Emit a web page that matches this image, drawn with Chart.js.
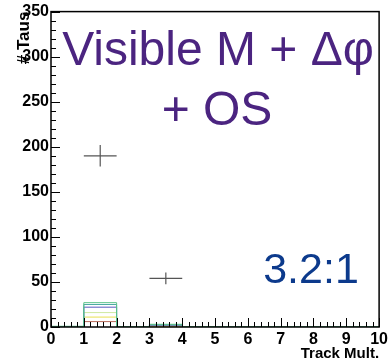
<!DOCTYPE html>
<html>
<head>
<meta charset="utf-8">
<script src="https://cdn.jsdelivr.net/npm/chart.js@4/dist/chart.umd.min.js"></script>
<style>
  html, body { margin: 0; padding: 0; background: #fff; }
  #wrap { width: 391px; height: 364px; }
</style>
</head>
<body>
<div id="wrap"><canvas id="c" width="391" height="364"></canvas></div>
<script>
// ── Data ──
const binEdges = [0, 1, 2, 3, 4, 5, 6, 7, 8, 9, 10];
// stacked background outlines (cumulative counts per bin)
const histGreen  = [0.8, 27, 0.5, 3, 0.5, 0.3, 0.3, 0.3, 0.3, 0.3];
const histTeal   = [0.4, 25, 0.3, 2.5, 0.3, 0, 0, 0, 0, 0];
const histBlue   = [0, 22, 0, 2, 0, 0, 0, 0, 0, 0];
const histPale   = [0, 16, 0, 1.5, 0, 0, 0, 0, 0, 0];
const histYellow = [0, 11, 0, 1, 0.3, 0, 0, 0, 0, 0];
const histRed    = [0, 6, 0, 0.5, 0.2, 0, 0, 0, 0, 0];
const histColors = ["#5cc48a", "#4aa8a0", "#5a5ac0", "#cfe9a0", "#e8e050", "#b86a5a"];

// measured points with errors
const pointX = [1.5, 3.5];
const pointY = [190, 54];
const pointErrY = [12, 6.5];
const pointErrX = [0.5, 0.5];

const yMajor = 50, yMinor = 10;
const xMajor = 1, xMinor = 0.2;

// ── Build datasets ──
// one point at each bin's lower edge, plus the last upper edge
function stepData(vals) {
  const pts = vals.map((v, i) => ({ x: binEdges[i], y: v }));
  pts.push({ x: binEdges[binEdges.length - 1], y: vals[vals.length - 1] });
  return pts;
}

const hists = [histGreen, histTeal, histBlue, histPale, histYellow, histRed];
const datasets = hists.map((h, i) => ({
  data: stepData(h),
  borderColor: histColors[i],
  borderWidth: 1,
  pointRadius: 0,
  stepped: "before",
  fill: false,
}));

const crossPts = [];
pointX.forEach((x, i) => {
  crossPts.push({ x: x - pointErrX[i], y: pointY[i] });
  crossPts.push({ x: x + pointErrX[i], y: pointY[i] });
  crossPts.push({ x: x, y: null });
  crossPts.push({ x: x, y: pointY[i] - pointErrY[i] });
  crossPts.push({ x: x, y: pointY[i] + pointErrY[i] });
  crossPts.push({ x: x, y: null });
});
datasets.push({
  data: crossPts,
  borderColor: "#555",
  borderWidth: 1.2,
  pointRadius: 0,
  spanGaps: false,
  fill: false,
});

// ── Frame, inward ticks and labels ──
const rootStyle = {
  id: "rootStyle",
  afterDatasetsDraw(chart) {
    const { ctx, chartArea: a, scales } = chart;
    ctx.save();
    ctx.strokeStyle = "#000";
    ctx.lineWidth = 1;
    ctx.beginPath();
    // y ticks
    for (let v = 0; v <= scales.y.max + 0.001; v += yMinor) {
      const py = Math.round(scales.y.getPixelForValue(v)) + 0.5;
      const len = Math.abs(v % yMajor) < 0.001 ? 9 : 5;
      ctx.moveTo(a.left, py);
      ctx.lineTo(a.left + len, py);
    }
    // x ticks
    for (let v = 0; v <= scales.x.max + 0.001; v += xMinor) {
      const px = Math.round(scales.x.getPixelForValue(v)) + 0.5;
      const r = Math.round(v * 10) / 10;
      const len = Math.abs(r - Math.round(r)) < 0.001 ? 9 : 5;
      ctx.moveTo(px, a.bottom);
      ctx.lineTo(px, a.bottom - len);
    }
    ctx.stroke();
    // frame
    ctx.lineWidth = 1.5;
    ctx.strokeRect(a.left, a.top, a.right - a.left, a.bottom - a.top);

    // big labels
    ctx.textAlign = "center";
    ctx.textBaseline = "alphabetic";
    ctx.fillStyle = "#4b2480";
    ctx.font = "48px 'Liberation Sans', Arial, sans-serif";
    ctx.fillText("Visible M + Δφ", 218, 65);
    ctx.fillText("+ OS", 217, 125);
    ctx.fillStyle = "#0c3a8c";
    ctx.font = "43px 'Liberation Sans', Arial, sans-serif";
    ctx.fillText("3.2:1", 311, 283);
    ctx.restore();
  },
};

const tickFont = { family: "'Liberation Sans', Arial, sans-serif", size: 16, weight: "bold" };
const titleFont = { family: "'Liberation Sans', Arial, sans-serif", size: 15, weight: "bold" };
const yTitleFont = { family: "'Liberation Sans', Arial, sans-serif", size: 17, weight: "bold" };

new Chart(document.getElementById("c"), {
  type: "line",
  data: { datasets },
  options: {
    responsive: false,
    animation: false,
    layout: { padding: { top: 11, right: 7, left: 0, bottom: 0 } },
    plugins: { legend: { display: false }, tooltip: { enabled: false } },
    scales: {
      x: {
        type: "linear",
        min: 0,
        max: 10,
        grid: { display: false, drawTicks: false },
        border: { display: false },
        ticks: { stepSize: xMajor, color: "#000", font: tickFont, padding: 3, maxRotation: 0, autoSkip: false },
        title: { display: true, text: "Track Mult.", align: "end", color: "#000", font: titleFont, padding: { top: 0, bottom: 1 } },
        afterFit(s) { s.height = 37; },
      },
      y: {
        min: 0,
        max: 350,
        grid: { display: false, drawTicks: false },
        border: { display: false },
        ticks: { stepSize: yMajor, color: "#000", font: tickFont, padding: 2, autoSkip: false },
        title: { display: true, text: "# Taus", align: "end", color: "#000", font: yTitleFont, padding: { top: 14, bottom: 0 } },
        afterFit(s) { s.width = 51; },
      },
    },
  },
  plugins: [rootStyle],
});
</script>
</body>
</html>
